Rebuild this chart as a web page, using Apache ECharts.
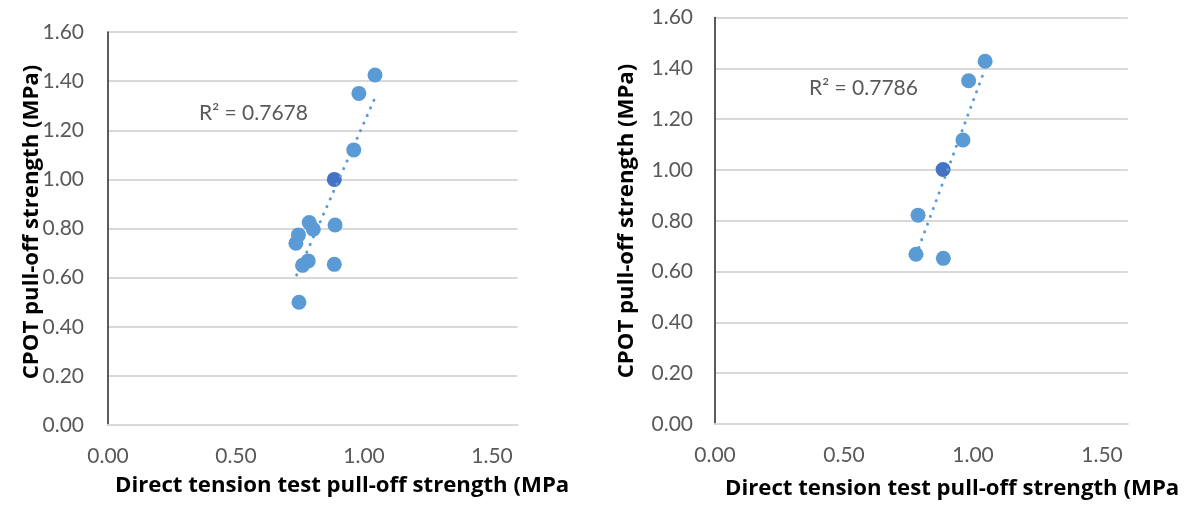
<!DOCTYPE html>
<html>
<head>
<meta charset="utf-8">
<script src="https://cdn.jsdelivr.net/npm/echarts@6/dist/echarts.min.js"></script>
<style>
    html, body { margin: 0; padding: 0; background: #fff; }
    #main { width: 1185px; height: 510px; }
</style>
</head>
<body>
<div id="main"></div>
<script>
    // left panel: all specimens
    var leftX = [1.043, 0.980, 0.960, 0.887, 0.884, 0.786, 0.802, 0.744, 0.734, 0.782, 0.760, 0.746];
    var leftY = [1.425, 1.350, 1.120, 0.814, 0.654, 0.824, 0.797, 0.774, 0.740, 0.668, 0.650, 0.500];
    var leftMark = [0.884, 1.000];
    var leftTrendX = [0.737, 1.040];
    var leftTrendY = [0.611, 1.325];
    var leftR2 = 'R² = 0.7678';

    // right panel
    var rightX = [1.047, 0.983, 0.961, 0.787, 0.779, 0.885];
    var rightY = [1.428, 1.351, 1.118, 0.822, 0.668, 0.652];
    var rightMark = [0.884, 1.002];
    var rightTrendX = [0.779, 1.047];
    var rightTrendY = [0.664, 1.399];
    var rightR2 = 'R² = 0.7786';

    var xTitle = 'Direct tension test pull-off strength (MPa';
    var yTitle = 'CPOT pull-off strength (MPa)';

    var pointColor = '#5B9BD5';
    var markColor = '#4472C4';
    var font = 'Lato';
    var titleFont = 'Open Sans';

    function pairs(xs, ys) {
        var out = [];
        for (var i = 0; i < xs.length; i++) out.push([xs[i], ys[i]]);
        return out;
    }

    function xAxisCfg(idx) {
        return {
            gridIndex: idx, type: 'value', min: 0, max: 1.6, interval: 0.5,
            axisLine: { show: true, lineStyle: { color: '#D9D9D9', width: 2 } },
            axisTick: { show: false },
            splitLine: { show: false },
            axisLabel: {
                showMaxLabel: false, margin: 21, color: '#595959',
                fontFamily: font, fontSize: 21,
                formatter: function (v) { return v.toFixed(2); }
            }
        };
    }

    function yAxisCfg(idx, margin) {
        return {
            gridIndex: idx, type: 'value', min: 0, max: 1.6, interval: 0.2,
            axisLine: { show: true, lineStyle: { color: '#262626', width: 1.5 } },
            axisTick: { show: false },
            splitLine: { show: true, lineStyle: { color: '#D9D9D9', width: 2 } },
            axisLabel: {
                margin: margin, color: '#595959',
                fontFamily: font, fontSize: 21,
                formatter: function (v) { return v.toFixed(2); }
            }
        };
    }

    function scatter(idx, data, color) {
        return {
            type: 'scatter', xAxisIndex: idx, yAxisIndex: idx,
            data: data, symbolSize: 15,
            itemStyle: { color: color, opacity: 1 }
        };
    }

    function trend(idx, xs, ys) {
        return {
            type: 'line', xAxisIndex: idx, yAxisIndex: idx,
            data: pairs(xs, ys), showSymbol: false, silent: true, z: 5,
            lineStyle: { color: pointColor, width: 3, type: [0.1, 8.2], cap: 'round' }
        };
    }

    function text(x, y, str, opts) {
        var o = {
            type: 'text', x: x, y: y, silent: true,
            style: {
                text: str, fontFamily: opts.family || font, fontSize: opts.size || 21,
                fontWeight: opts.bold ? 'bold' : 'normal',
                fill: opts.color || '#000',
                align: opts.align || 'left', verticalAlign: 'middle'
            }
        };
        if (opts.rotate) o.rotation = opts.rotate;
        return o;
    }

    var titleOpts = { bold: true, size: 22.2, family: titleFont };
    var yTitleOpts = { bold: true, size: 22.2, family: titleFont, align: 'center', rotate: Math.PI / 2 };

    var chart = echarts.init(document.getElementById('main'));
    chart.setOption({
        animation: false,
        grid: [
            { left: 108, top: 32, width: 409.6, height: 393 },
            { left: 715, top: 17.5, width: 412.8, height: 406.5 }
        ],
        xAxis: [xAxisCfg(0), xAxisCfg(1)],
        yAxis: [yAxisCfg(0, 24), yAxisCfg(1, 22)],
        series: [
            scatter(0, pairs(leftX, leftY), pointColor),
            scatter(0, [leftMark], markColor),
            trend(0, leftTrendX, leftTrendY),
            scatter(1, pairs(rightX, rightY), pointColor),
            scatter(1, [rightMark], markColor),
            trend(1, rightTrendX, rightTrendY)
        ],
        graphic: [
            text(115, 486, xTitle, titleOpts),
            text(725, 489, xTitle, titleOpts),
            text(32, 222, yTitle, yTitleOpts),
            text(627, 221, yTitle, yTitleOpts),
            text(199, 113, leftR2, { color: '#595959', size: 21 }),
            text(809, 88, rightR2, { color: '#595959', size: 21 })
        ]
    });
</script>
</body>
</html>
